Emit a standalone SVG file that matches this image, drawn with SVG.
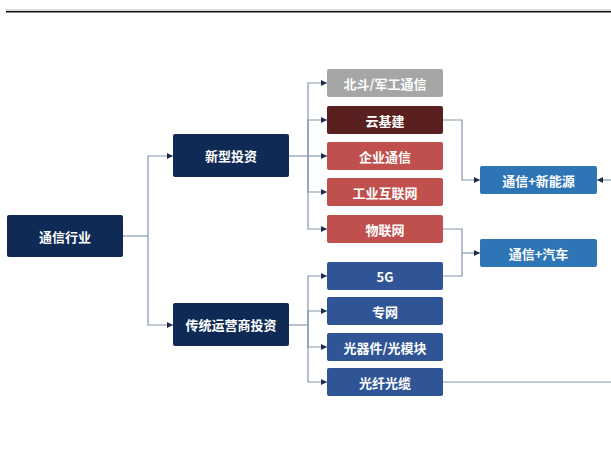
<svg xmlns="http://www.w3.org/2000/svg" width="611" height="475" viewBox="0 0 611 475">
<defs>
<marker id="ah" viewBox="0 0 10 10" refX="10" refY="5" markerWidth="6" markerHeight="6" markerUnits="userSpaceOnUse" orient="auto">
<path d="M0,0 L10,5 L0,10 z" fill="#1f2d4a"/>
</marker>
<style>
.t{font-family:"Noto Sans CJK SC","Liberation Sans",sans-serif;font-weight:bold;font-size:13px;fill:#fff;text-anchor:middle;dominant-baseline:central}
.c{fill:none;stroke:#8696ad;stroke-width:1.2}
.a{marker-end:url(#ah)}
.navy{fill:#0e2a55}
.grey{fill:#a6a6a6}
.maroon{fill:#5a2020}
.red{fill:#c0504d}
.blue{fill:#2e75b6}
.dblue{fill:#2f5597}
</style>
</defs>
<rect width="611" height="475" fill="#fff"/>
<line x1="6" y1="10" x2="611" y2="10" stroke="#bbbbbb" stroke-width="1"/>
<line x1="6" y1="11.8" x2="611" y2="11.8" stroke="#111" stroke-width="1.6"/>
<g id="connectors">
<path class="c" d="M123,236 H148"/>
<path class="c a" d="M148,236 V156 H173"/>
<path class="c a" d="M148,236 V325 H173"/>
<path class="c" d="M289,156 H308"/>
<path class="c a" d="M308,156 V83 H327"/>
<path class="c a" d="M308,156 V120 H327"/>
<path class="c a" d="M308,156 H327"/>
<path class="c a" d="M308,156 V192 H327"/>
<path class="c a" d="M308,156 V229 H327"/>
<path class="c" d="M289,325 H308"/>
<path class="c a" d="M308,325 V276 H327"/>
<path class="c a" d="M308,325 V311 H327"/>
<path class="c a" d="M308,325 V347 H327"/>
<path class="c a" d="M308,325 V382 H327"/>
<path class="c a" d="M443,120 H462 V180 H480"/>
<path class="c a" d="M611,180 H597"/>
<path class="c" d="M443,229 H462 V276 H443"/>
<path class="c a" d="M462,253 H480"/>
<path class="c" d="M443,382 H611"/>
</g>
<g id="n-industry"><rect class="navy" x="7" y="215" width="116" height="42" rx="2"/><text class="t" x="65" y="236">通信行业</text></g>
<g id="n-new"><rect class="navy" x="173" y="134" width="116" height="43" rx="2"/><text class="t" x="231" y="155.5">新型投资</text></g>
<g id="n-trad"><rect class="navy" x="173" y="303" width="116" height="43" rx="2"/><text class="t" x="231" y="324.5">传统运营商投资</text></g>
<g id="n-beidou"><rect class="grey" x="327" y="69" width="116" height="28" rx="2"/><text class="t" x="385" y="83">北斗/军工通信</text></g>
<g id="n-cloud"><rect class="maroon" x="327" y="106" width="116" height="28" rx="2"/><text class="t" x="385" y="120">云基建</text></g>
<g id="n-ent"><rect class="red" x="327" y="142" width="116" height="28" rx="2"/><text class="t" x="385" y="156">企业通信</text></g>
<g id="n-iiot"><rect class="red" x="327" y="178" width="116" height="28" rx="2"/><text class="t" x="385" y="192">工业互联网</text></g>
<g id="n-iot"><rect class="red" x="327" y="215" width="116" height="28" rx="2"/><text class="t" x="385" y="229">物联网</text></g>
<g id="n-5g"><rect class="dblue" x="327" y="262" width="116" height="28" rx="2"/><text class="t" x="385" y="276">5G</text></g>
<g id="n-priv"><rect class="dblue" x="327" y="297" width="116" height="28" rx="2"/><text class="t" x="385" y="311">专网</text></g>
<g id="n-optic"><rect class="dblue" x="327" y="333" width="116" height="28" rx="2"/><text class="t" x="385" y="347">光器件/光模块</text></g>
<g id="n-fiber"><rect class="dblue" x="327" y="368" width="116" height="28" rx="2"/><text class="t" x="385" y="382">光纤光缆</text></g>
<g id="n-energy"><rect class="blue" x="480" y="166" width="117" height="28" rx="2"/><text class="t" x="538.5" y="180">通信+新能源</text></g>
<g id="n-auto"><rect class="blue" x="480" y="239" width="117" height="28" rx="2"/><text class="t" x="538.5" y="253">通信+汽车</text></g>
</svg>
